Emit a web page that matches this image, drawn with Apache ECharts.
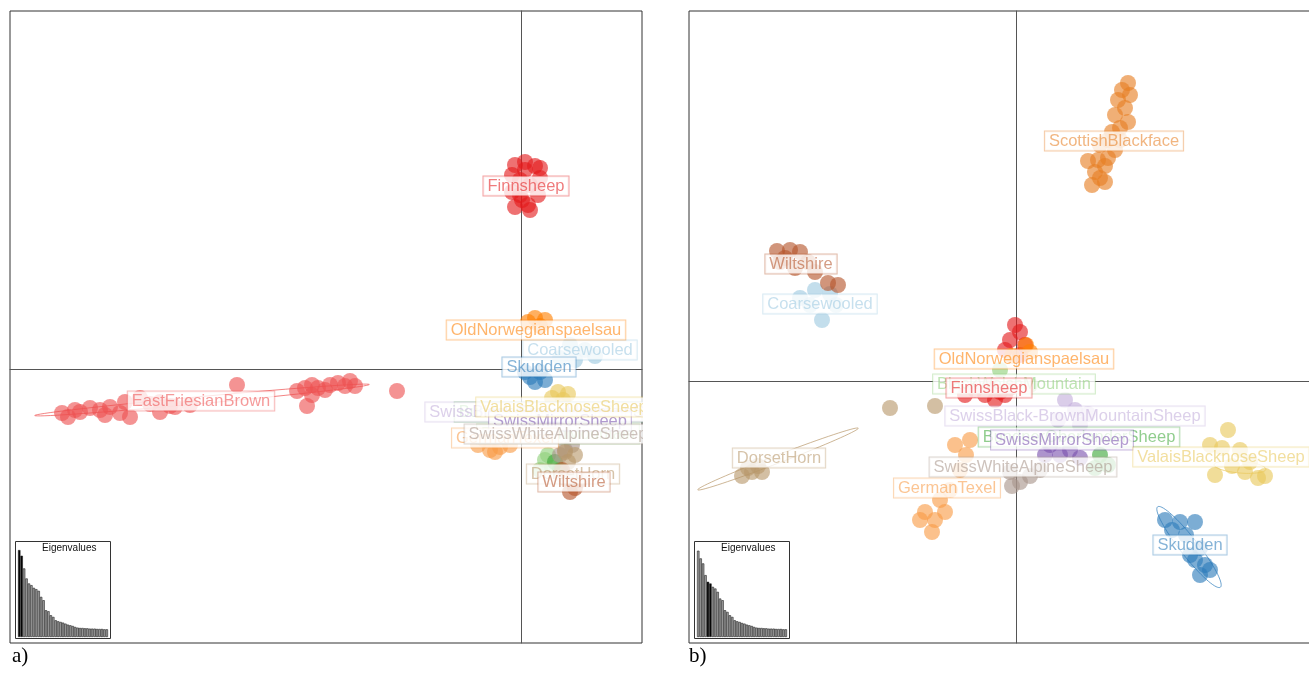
<!DOCTYPE html>
<html>
<head>
<meta charset="utf-8">
<script src="https://cdn.jsdelivr.net/npm/echarts@6/dist/echarts.min.js"></script>
<style>
  html, body { margin: 0; padding: 0; background: #fff; overflow: hidden; }
  #main { width: 1330px; height: 674px; }
</style>
</head>
<body>
<div id="main"></div>
<script>
// breeds in drawing order (later ones are drawn on top)
var breeds = ['EastFriesianBrown', 'Coarsewooled', 'Skudden', 'BlackWelshMountain', 'BundnerOberlanderSheep',
  'SwissBlack-BrownMountainSheep', 'SwissMirrorSheep', 'ValaisBlacknoseSheep', 'GermanTexel',
  'SwissWhiteAlpineSheep', 'DorsetHorn', 'Wiltshire', 'Finnsheep', 'OldNorwegianspaelsau', 'ScottishBlackface'];
var breedColors = ['#EE5050', '#9ECAE1', '#2B7BBA', '#8FD07A', '#3EA83A',
  '#C3AEDB', '#7A52AE', '#E9C85A', '#F89B45',
  '#A8958A', '#B8976A', '#B5542A', '#E31A1C', '#FF7F00', '#E67E22'];

// a) PC1 x PC2 scores
var scoresA = {
  'EastFriesianBrown': [[-45.9,-4.4],[-44.6,-4.1],[-45.3,-4.8],[-44.1,-4.3],[-43.1,-3.9],[-42.1,-4.1],[-41.1,-3.8],
    [-40.1,-4.4],[-41.6,-4.6],[-39.6,-3.3],[-38.1,-2.9],[-37.1,-3.5],[-36.1,-3.3],[-35.1,-3.7],[-34.6,-3.8],
    [-33.1,-3.6],[-39.1,-4.8],[-36.1,-4.3],[-28.4,-1.6],[-22.4,-2.2],[-21.6,-1.9],[-20.9,-1.6],[-20.3,-1.9],
    [-19.6,-2.1],[-19.1,-1.6],[-18.3,-1.4],[-17.6,-1.7],[-17.1,-1.2],[-16.6,-1.7],[-21.4,-3.7],[-20.9,-2.6],[-12.4,-2.2]],
  'Coarsewooled': [[4.9,2.4],[6.4,1.9],[3.9,1.1],[7.4,1.3],[5.4,0.9]],
  'Skudden': [[0.9,-0.8],[2.4,-1.1],[1.9,-0.3],[1.4,-1.3],[0.4,-0.3]],
  'BlackWelshMountain': [[2.4,-9.1],[3.1,-9.9],[1.9,-10.1],[2.7,-8.6]],
  'BundnerOberlanderSheep': [[3.4,-9.3],[3.9,-10.1]],
  'SwissBlack-BrownMountainSheep': [[1.9,-4.6],[2.9,-4.9],[1.4,-5.1]],
  'SwissMirrorSheep': [[2.9,-5.6],[3.9,-6.1],[2.4,-6.3]],
  'ValaisBlacknoseSheep': [[3.7,-2.3],[4.7,-2.5],[4.2,-3.1],[3.1,-2.9]],
  'GermanTexel': [[-4.3,-7.6],[-3.1,-8.1],[-2.1,-7.8],[-3.6,-7.1],[-2.6,-8.3],[-1.1,-7.6]],
  'SwissWhiteAlpineSheep': [[4.4,-8.1],[5.1,-7.6],[3.9,-8.6]],
  'DorsetHorn': [[4.4,-8.3],[5.4,-8.6],[4.7,-9.3]],
  'Wiltshire': [[4.4,-10.9],[5.4,-11.9],[4.9,-12.3],[5.9,-11.1],[4.1,-10.1]],
  'Finnsheep': [[-0.6,20.4],[0.4,20.7],[1.4,20.3],[-0.9,19.4],[1.9,19.1],[-0.1,18.9],[0.9,18.4],[-0.9,17.7],
    [1.7,17.4],[0.1,16.9],[-0.6,16.2],[0.9,15.9],[0.4,19.9],[-0.1,17.4],[0.7,16.4],[1.9,20.1]],
  'OldNorwegianspaelsau': [[1.4,5.1],[2.4,4.9],[0.7,4.7],[1.9,4.3]]
};
var centersA = {
  'EastFriesianBrown': [-32.0,-3.2], 'Coarsewooled': [5.9,1.9], 'Skudden': [1.8,0.2],
  'BlackWelshMountain': [3.7,-6.5], 'BundnerOberlanderSheep': [3.4,-4.3],
  'SwissBlack-BrownMountainSheep': [3.4,-4.3], 'SwissMirrorSheep': [3.9,-5.2],
  'ValaisBlacknoseSheep': [4.3,-3.8], 'GermanTexel': [-1.6,-6.9], 'SwissWhiteAlpineSheep': [3.7,-6.5],
  'DorsetHorn': [5.2,-10.5], 'Wiltshire': [5.3,-11.3], 'Finnsheep': [0.5,18.3], 'OldNorwegianspaelsau': [1.5,3.9]
};
// ellipses: breed, centre x, centre y, semi-axis a, semi-axis b, angle (deg)
var ellipsesA = [['EastFriesianBrown', -31.9, -3.1, 16.8, 0.35, 5.3]];

// b) PC3 x PC4 scores
var scoresB = {
  'Coarsewooled': [[-20.1,9.1],[-18.6,8.7],[-19.4,6.1],[-20.6,7.6],[-18.0,7.6],[-21.6,8.3]],
  'Skudden': [[14.9,-13.9],[16.4,-14.1],[17.9,-14.1],[15.6,-14.9],[17.0,-15.4],[18.4,-16.7],[17.9,-17.9],
    [18.9,-18.4],[17.4,-17.4],[18.4,-19.4],[19.4,-18.9]],
  'BlackWelshMountain': [[-1.6,1.1],[1.4,-0.4]],
  'BundnerOberlanderSheep': [[8.4,-7.4],[9.2,-8.4],[7.9,-8.7]],
  'SwissBlack-BrownMountainSheep': [[4.9,-1.9],[5.9,-2.9],[7.2,-3.3],[4.2,-3.9],[6.4,-4.4]],
  'SwissMirrorSheep': [[3.4,-6.4],[4.4,-7.4],[5.4,-6.9],[2.9,-7.4],[6.4,-7.7]],
  'ValaisBlacknoseSheep': [[21.2,-4.9],[19.4,-6.4],[20.6,-6.7],[22.4,-6.9],[23.4,-8.1],[24.9,-9.5],[19.9,-9.4],
    [22.9,-9.1],[21.6,-8.5],[24.2,-9.7]],
  'GermanTexel': [[-6.1,-6.4],[-5.0,-7.4],[-4.6,-5.9],[-5.6,-8.9],[-6.6,-10.9],[-7.6,-11.9],[-9.1,-13.1],
    [-8.1,-13.9],[-8.4,-15.1],[-7.1,-13.1],[-9.6,-13.9]],
  'SwissWhiteAlpineSheep': [[-0.6,-9.1],[0.4,-10.1],[1.4,-9.5],[-0.4,-10.5],[2.4,-8.9]],
  'DorsetHorn': [[-27.4,-9.5],[-26.4,-9.1],[-25.4,-9.1],[-26.8,-8.7],[-25.8,-8.5],[-12.6,-2.7],[-8.1,-2.5]],
  'Wiltshire': [[-23.9,13.0],[-22.6,13.1],[-21.6,12.9],[-23.1,12.3],[-20.8,11.9],[-20.1,10.9],[-22.1,11.3],
    [-18.8,9.8],[-17.8,9.6],[-23.6,11.9]],
  'Finnsheep': [[-0.1,5.6],[0.4,4.9],[-0.6,4.1],[0.9,3.6],[-1.1,3.1],[0.4,2.6],[-2.6,-0.4],[-1.6,-1.1],
    [-3.1,-1.4],[-2.1,-1.9],[-1.1,-1.4],[-4.1,-0.9],[-0.6,-0.7],[-5.1,-1.4]],
  'OldNorwegianspaelsau': [[1.0,3.6],[-0.4,2.5],[1.4,2.9]],
  'ScottishBlackface': [[11.2,29.8],[10.6,29.1],[11.4,28.6],[10.2,28.1],[10.9,27.3],[9.9,26.6],[11.2,25.9],
    [10.4,25.3],[9.6,24.9],[9.2,24.1],[10.4,24.1],[8.4,23.6],[9.9,23.1],[9.2,22.3],[8.2,22.1],[8.9,21.5],
    [7.9,20.9],[8.4,20.3],[7.6,19.6],[8.9,19.9],[7.2,22.0]]
};
var centersB = {
  'Coarsewooled': [-19.6,7.7], 'Skudden': [17.4,-16.4], 'BlackWelshMountain': [-0.2,-0.3],
  'BundnerOberlanderSheep': [6.3,-5.6], 'SwissBlack-BrownMountainSheep': [5.9,-3.5],
  'SwissMirrorSheep': [4.6,-5.9], 'ValaisBlacknoseSheep': [20.5,-7.6], 'GermanTexel': [-6.9,-10.7],
  'SwissWhiteAlpineSheep': [0.7,-8.6], 'DorsetHorn': [-23.7,-7.7], 'Wiltshire': [-21.5,11.7],
  'Finnsheep': [-2.7,-0.7], 'OldNorwegianspaelsau': [0.8,2.2], 'ScottishBlackface': [9.8,24.0]
};
var ellipsesB = [
  ['DorsetHorn', -23.8, -7.8, 8.6, 0.4, 21],
  ['Skudden', 17.3, -16.6, 5.1, 0.9, -52],
  ['ValaisBlacknoseSheep', 22.4, -8.6, 2.6, 0.6, -5]
];

// eigenvalue screeplots
var eigenA = [26.0,24.3,20.5,17.5,16.0,15.5,14.7,14.3,13.8,12.0,11.0,8.0,7.7,6.5,6.0,5.0,4.7,4.5,4.3,4.0,3.7,
  3.5,3.3,3.0,2.8,2.7,2.7,2.6,2.6,2.5,2.5,2.5,2.4,2.4,2.4,2.3,2.3];
var eigenB = [25.8,23.5,22.0,18.5,16.5,16.0,15.0,14.5,13.5,11.5,11.0,8.0,7.5,6.5,6.0,5.0,4.7,4.5,4.2,4.0,3.7,
  3.5,3.3,3.0,2.8,2.7,2.7,2.6,2.6,2.5,2.5,2.5,2.4,2.4,2.4,2.3,2.3];
var shownAxesA = [0, 1];
var shownAxesB = [4, 5];

function rgba(hex, a) {
  var n = parseInt(hex.slice(1), 16);
  return 'rgba(' + (n >> 16) + ',' + ((n >> 8) & 255) + ',' + (n & 255) + ',' + a + ')';
}
function colorOf(b) { return breedColors[breeds.indexOf(b)]; }

var chart = echarts.init(document.getElementById('main'));
var series = [];

function addPanel(idx, scores, centers, ellipses) {
  breeds.forEach(function (b) {
    if (!scores[b]) return;
    series.push({
      type: 'scatter', xAxisIndex: idx, yAxisIndex: idx, z: 2, silent: true,
      symbolSize: 16, data: scores[b],
      itemStyle: { color: colorOf(b), opacity: 0.62 }
    });
  });
  series.push({
    type: 'custom', xAxisIndex: idx, yAxisIndex: idx, z: 3, silent: true,
    data: ellipses.map(function (e) { return [e[1], e[2]]; }),
    renderItem: function (params, api) {
      var e = ellipses[params.dataIndex];
      var th = e[5] * Math.PI / 180, pts = [];
      for (var i = 0; i < 72; i++) {
        var t = i / 72 * 2 * Math.PI;
        var x = e[1] + e[3] * Math.cos(t) * Math.cos(th) - e[4] * Math.sin(t) * Math.sin(th);
        var y = e[2] + e[3] * Math.cos(t) * Math.sin(th) + e[4] * Math.sin(t) * Math.cos(th);
        pts.push(api.coord([x, y]));
      }
      return { type: 'polygon', shape: { points: pts },
        style: { fill: null, stroke: rgba(colorOf(e[0]), 0.7), lineWidth: 1 } };
    }
  });
  breeds.forEach(function (b) {
    if (!centers[b]) return;
    var c = colorOf(b);
    series.push({
      type: 'scatter', xAxisIndex: idx, yAxisIndex: idx, z: 4, silent: true,
      symbolSize: 0, data: [{ name: b, value: centers[b] }],
      label: {
        show: true, position: 'inside', formatter: '{b}',
        fontFamily: 'Liberation Sans, Arial, sans-serif', fontSize: 16.5, lineHeight: 18,
        color: rgba(c, 0.72), backgroundColor: '#fff',
        borderColor: rgba(c, 0.5), borderWidth: 1, padding: [1, 4, 0, 4]
      }
    });
  });
}
addPanel(0, scoresA, centersA, ellipsesA);
addPanel(1, scoresB, centersB, ellipsesB);

function eigenSeries(idx, vals, shown) {
  return {
    type: 'bar', xAxisIndex: idx, yAxisIndex: idx, z: 5, silent: true,
    barCategoryGap: 0,
    data: vals.map(function (v, i) {
      return { value: v, itemStyle: { color: shown.indexOf(i) >= 0 ? '#000' : '#a0a0a0' } };
    }),
    itemStyle: { borderColor: '#222', borderWidth: 0.6 }
  };
}
series.push(eigenSeries(2, eigenA, shownAxesA));
series.push(eigenSeries(3, eigenB, shownAxesB));

function mainAxis(idx, min, max) {
  return {
    type: 'value', gridIndex: idx, min: min, max: max,
    axisLine: { show: true, onZero: true, lineStyle: { color: '#555', width: 1 } },
    axisTick: { show: false }, axisLabel: { show: false }, splitLine: { show: false }
  };
}
function insetX(idx, n) {
  var cats = [];
  for (var i = 1; i <= n; i++) cats.push('PC' + i);
  return { type: 'category', gridIndex: idx, data: cats, show: false };
}
function insetY(idx) {
  return { type: 'value', gridIndex: idx, min: 0, max: 28.7, show: false };
}

chart.setOption({
  animation: false,
  backgroundColor: '#fff',
  grid: [
    { left: 10, top: 11, width: 632, height: 632, show: true, borderColor: '#333', borderWidth: 1 },
    { left: 689, top: 11, width: 632, height: 632, show: true, borderColor: '#333', borderWidth: 1 },
    { left: 18, top: 541, width: 90, height: 96 },
    { left: 697, top: 541, width: 90, height: 96 }
  ],
  xAxis: [mainAxis(0, -51.1, 12.1), mainAxis(1, -32.7, 30.5), insetX(2, eigenA.length), insetX(3, eigenB.length)],
  yAxis: [mainAxis(0, -27.4, 35.8), mainAxis(1, -26.2, 37.0), insetY(2), insetY(3)],
  title: [
    { text: 'a)', left: 12, top: 646, padding: 0,
      textStyle: { fontFamily: 'Liberation Serif, serif', fontSize: 21, fontWeight: 'normal', color: '#000' } },
    { text: 'b)', left: 689, top: 646, padding: 0,
      textStyle: { fontFamily: 'Liberation Serif, serif', fontSize: 21, fontWeight: 'normal', color: '#000' } },
    { text: 'Eigenvalues', left: 42, top: 543, padding: 0, z: 10,
      textStyle: { fontFamily: 'Liberation Sans, Arial, sans-serif', fontSize: 10, fontWeight: 'normal', color: '#111' } },
    { text: 'Eigenvalues', left: 721, top: 543, padding: 0, z: 10,
      textStyle: { fontFamily: 'Liberation Sans, Arial, sans-serif', fontSize: 10, fontWeight: 'normal', color: '#111' } }
  ],
  graphic: [
    // inset frames
    { type: 'rect', z: 1, shape: { x: 15.5, y: 541.5, width: 95, height: 97 },
      style: { fill: '#fff', stroke: '#333', lineWidth: 1 } },
    { type: 'rect', z: 1, shape: { x: 694.5, y: 541.5, width: 95, height: 97 },
      style: { fill: '#fff', stroke: '#333', lineWidth: 1 } },
    // clip labels running past the right edge of panel a
    { type: 'rect', z: 100, shape: { x: 643, y: 0, width: 45, height: 645 }, style: { fill: '#fff' } }
  ],
  series: series
});
</script>
</body>
</html>
